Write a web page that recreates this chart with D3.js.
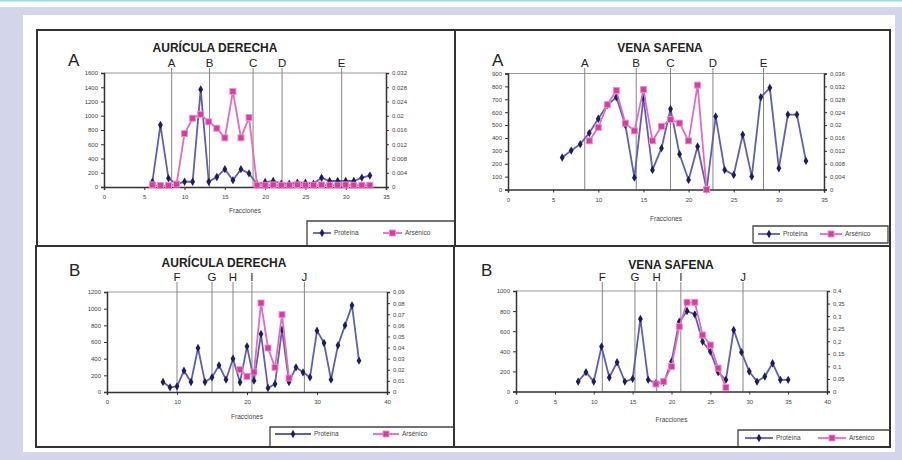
<!DOCTYPE html>
<html>
<head>
<meta charset="utf-8">
<script src="https://cdnjs.cloudflare.com/ajax/libs/d3/7.8.5/d3.min.js"></script>
<style>
  body { margin: 0; background: #fff; }
  svg { display: block; font-family: "Liberation Sans", Arial, sans-serif; }
</style>
</head>
<body>
<svg id="chart" width="902" height="460"></svg>
<script>
// --- data ---
var fraccionesTL = [6,7,8,9,10,11,12,13,14,15,16,17,18,19,20,21,22,23,24,25,26,27,28,29,30,31,32,33];
var proteinaTL = [70,870,122,40,74,74,1370,74,140,250,96,250,190,40,70,84,47,47,60,60,47,130,84,84,84,84,131,160];
var arsenicoTL = [0.0006,0.0004,0.0004,0.0008,0.0150,0.0193,0.0204,0.0183,0.0165,0.0138,0.0268,0.0138,0.0195,0.0005,
                  0.0005,0.0006,0.0005,0.0005,0.0006,0.0005,0.0005,0.0006,0.0005,0.0005,0.0006,0.0005,0.0005,0.0005];

var fraccionesTR = [6,7,8,9,10,11,12,13,14,15,16,17,18,19,20,21,22,23,24,25,26,27,28,29,30,31,32,33];
var proteinaTR = [248,302,352,438,549,655,716,500,92,710,152,321,625,274,74,334,0,567,152,113,425,100,716,789,165,581,581,222];
var fraccionesArsTR = [9,10,11,12,13,14,15,16,17,18,19,20,21,22];
var arsenicoTR = [0.0151,0.0193,0.0263,0.0307,0.0206,0.0182,0.0310,0.0151,0.0196,0.0217,0.0206,0.0151,0.0324,0];

var fraccionesBL = [8,9,10,11,12,13,14,15,16,17,18,19,20,21,22,23,24,25,26,27,28,29,30,31,32,33,34,35,36];
var proteinaBL = [120,56,68,256,120,528,120,176,320,148,400,116,548,136,696,48,96,748,120,296,236,176,736,588,148,560,800,1040,376];
var fraccionesArsBL = [19,20,21,22,23,24,25,26];
var arsenicoBL = [0.0201,0.0141,0.0180,0.0801,0.0396,0.0222,0.0696,0.0126];

var fraccionesBR = [8,9,10,11,12,13,14,15,16,17,18,19,20,21,22,23,24,25,26,27,28,29,30,31,32,33,34,35];
var proteinaBR = [99,192,99,447,139,291,99,126,722,116,83,90,298,695,801,768,497,397,192,116,613,391,199,99,149,281,116,116];
var fraccionesArsBR = [18,19,20,21,22,23,24,25,26,27];
var arsenicoBR = [0.03,0.04,0.099,0.258,0.355,0.355,0.225,0.185,0.093,0.016];

// reference lines
var letrasA = ["A","B","C","D","E"];
var letrasB = ["F","G","H","I","J"];
var refTL = [8.4,13.1,18.5,22.1,29.5];
var refTR = [8.5,14.2,18.0,22.7,28.3];
var refBL = [10.0,15.0,18.0,20.7,28.2];
var refBR = [11.1,15.3,18.1,21.2,29.2];

// ticks
var xTicks35 = [0,5,10,15,20,25,30,35];
var xTicks40by10 = [0,10,20,30,40];
var xTicks40by5 = [0,5,10,15,20,25,30,35,40];
var leftTicksTL = [0,200,400,600,800,1000,1200,1400,1600];
var rightTicksTL = [0,0.004,0.008,0.012,0.016,0.02,0.024,0.028,0.032];
var rightLabelsTL = ["0","0.004","0.008","0.012","0.016","0.02","0.024","0.028","0.032"];
var leftTicksTR = [0,100,200,300,400,500,600,700,800,900];
var rightTicksTR = [0,0.004,0.008,0.012,0.016,0.02,0.024,0.028,0.032,0.036];
var rightLabelsTR = ["0","0,004","0,008","0,012","0,016","0,02","0,024","0,028","0,032","0,036"];
var leftTicksBL = [0,200,400,600,800,1000,1200];
var rightTicksBL = [0,0.01,0.02,0.03,0.04,0.05,0.06,0.07,0.08,0.09];
var rightLabelsBL = ["0","0,01","0,02","0,03","0,04","0,05","0,06","0,07","0,08","0,09"];
var leftTicksBR = [0,200,400,600,800,1000];
var rightTicksBR = [0,0.05,0.1,0.15,0.2,0.25,0.3,0.35,0.4];
var rightLabelsBR = ["0","0,05","0,1","0,15","0,2","0,25","0,3","0,35","0,4"];

var serieNames = ["Proteína", "Arsénico"];

var svg = d3.select("#chart");

// page frame
svg.append("rect").attr("x",0).attr("y",0).attr("width",902).attr("height",1.5).attr("fill","#9fd6e3");
svg.append("rect").attr("x",0).attr("y",7).attr("width",902).attr("height",453).attr("fill","#d3d6ea");
svg.append("rect").attr("x",23).attr("y",15).attr("width",872).attr("height",437).attr("fill","#fff");

var navy = "#1c1c5e", blueLine = "#6060ae", pinkLine = "#e46cbf", pinkMark = "#d2409f";

function drawPanel(p) {
  var g = svg.append("g");

  var x = d3.scaleLinear().domain(p.xDomain).range([p.left, p.right]);
  var yL = d3.scaleLinear().domain([0, p.leftTicks[p.leftTicks.length-1]]).range([p.bottom, p.top]);
  var yR = d3.scaleLinear().domain([0, p.rightTicks[p.rightTicks.length-1]]).range([p.bottom, p.top]);

  // gray top border of plot area
  g.append("line").attr("x1",p.left).attr("x2",p.right).attr("y1",p.top).attr("y2",p.top)
    .attr("stroke","#9a9a9a").attr("stroke-width",1.2);

  // reference lines + letters
  p.refs.forEach(function(v, i) {
    g.append("line").attr("x1",x(v)).attr("x2",x(v)).attr("y1",p.refTop).attr("y2",p.bottom)
      .attr("stroke","#858585").attr("stroke-width",1);
    g.append("text").attr("x",x(v)).attr("y",p.refTop-1).attr("text-anchor","middle")
      .attr("font-size",11.5).attr("fill","#222").text(p.letters[i]);
  });

  var ax = g.append("g").attr("transform","translate(0,"+p.bottom+")")
    .call(d3.axisBottom(x).tickValues(p.xTicks).tickSize(3).tickPadding(5).tickFormat(d3.format("d")));
  var al = g.append("g").attr("transform","translate("+p.left+",0)")
    .call(d3.axisLeft(yL).tickValues(p.leftTicks).tickSize(3).tickPadding(3).tickFormat(d3.format("d")));
  var ar = g.append("g").attr("transform","translate("+p.right+",0)")
    .call(d3.axisRight(yR).tickValues(p.rightTicks).tickSize(3).tickPadding(3)
      .tickFormat(function(d, i) { return p.rightLabels[i]; }));
  [ax, al, ar].forEach(function(a) {
    a.selectAll(".domain").attr("stroke","#333").attr("stroke-width",1.5);
    a.selectAll(".tick line").attr("stroke","#333");
    a.selectAll("text").attr("font-size",6).attr("fill","#444");
  });

  g.append("text").attr("x",(p.left+p.right)/2).attr("y",p.bottom+p.xTitleDy)
    .attr("text-anchor","middle").attr("font-size",6.5).attr("fill","#444").text("Fracciones");

  // protein series
  var pts = p.fx.map(function(f, i) { return [f, p.prot[i]]; });
  g.append("path").datum(pts)
    .attr("d", d3.line().x(function(d){return x(d[0]);}).y(function(d){return yL(d[1]);}))
    .attr("fill","none").attr("stroke",blueLine).attr("stroke-width",1.8);
  g.selectAll(".pm").data(pts).enter().append("path")
    .attr("transform", function(d){ return "translate("+x(d[0])+","+yL(d[1])+")"; })
    .attr("d", d3.symbol().type(d3.symbolDiamond).size(20))
    .attr("fill",navy);

  // arsenic series
  var apts = p.afx.map(function(f, i) { return [f, p.ars[i]]; });
  g.append("path").datum(apts)
    .attr("d", d3.line().x(function(d){return x(d[0]);}).y(function(d){return yR(d[1]);}))
    .attr("fill","none").attr("stroke",pinkLine).attr("stroke-width",1.8);
  g.selectAll(".am").data(apts).enter().append("rect")
    .attr("x", function(d){ return x(d[0])-3; }).attr("y", function(d){ return yR(d[1])-3; })
    .attr("width",6).attr("height",6).attr("fill",pinkMark).attr("stroke","#f08fd0").attr("stroke-width",0.9);

  // title and panel letter
  g.append("text").attr("x",p.titleX).attr("y",p.titleY).attr("text-anchor","middle")
    .attr("font-size",12).attr("font-weight","bold").attr("fill","#222").text(p.title);
  g.append("text").attr("x",p.letterX).attr("y",p.letterY)
    .attr("font-size",17).attr("fill","#222").text(p.panel);

  // legend
  var lg = p.legend;
  g.append("path").attr("d","M"+lg.x0+","+lg.y1+"V"+lg.y0+"H"+lg.x1+(lg.closed ? "V"+lg.y1+"H"+lg.x0 : ""))
    .attr("fill","none").attr("stroke","#444").attr("stroke-width",1.3);
  var cy = lg.cy;
  g.append("line").attr("x1",lg.s1[0]).attr("x2",lg.s1[1]).attr("y1",cy).attr("y2",cy)
    .attr("stroke",blueLine).attr("stroke-width",1.8);
  g.append("path").attr("transform","translate("+((lg.s1[0]+lg.s1[1])/2)+","+cy+")")
    .attr("d", d3.symbol().type(d3.symbolDiamond).size(20)).attr("fill",navy);
  g.append("text").attr("x",lg.s1[1]+3).attr("y",cy+2).attr("font-size",6.5).attr("fill","#444").text(serieNames[0]);
  g.append("line").attr("x1",lg.s2[0]).attr("x2",lg.s2[1]).attr("y1",cy).attr("y2",cy)
    .attr("stroke",pinkLine).attr("stroke-width",1.8);
  g.append("rect").attr("x",(lg.s2[0]+lg.s2[1])/2-3).attr("y",cy-3).attr("width",6).attr("height",6)
    .attr("fill",pinkMark).attr("stroke","#f08fd0").attr("stroke-width",0.9);
  g.append("text").attr("x",lg.s2[1]+3).attr("y",cy+2).attr("font-size",6.5).attr("fill","#444").text(serieNames[1]);

  // panel border
  g.append("rect").attr("x",p.box[0]).attr("y",p.box[1]).attr("width",p.box[2]-p.box[0]).attr("height",p.box[3]-p.box[1])
    .attr("fill","none").attr("stroke","#333").attr("stroke-width",2);
}

drawPanel({
  box:[37,30,455,246], left:104, right:386, top:73, bottom:187, refTop:68, xTitleDy:26,
  xDomain:[0,35], xTicks:xTicks35, leftTicks:leftTicksTL, rightTicks:rightTicksTL, rightLabels:rightLabelsTL,
  fx:fraccionesTL, prot:proteinaTL, afx:fraccionesTL, ars:arsenicoTL,
  refs:refTL, letters:letrasA, title:"AURÍCULA DERECHA", titleX:215, titleY:52, panel:"A", letterX:68, letterY:66,
  legend:{x0:307, y0:221, x1:455, y1:246, closed:false, cy:233, s1:[313,331], s2:[383,402]}
});
drawPanel({
  box:[455,30,890,246], left:508, right:824, top:73.5, bottom:189.5, refTop:68, xTitleDy:31,
  xDomain:[0,35], xTicks:xTicks35, leftTicks:leftTicksTR, rightTicks:rightTicksTR, rightLabels:rightLabelsTR,
  fx:fraccionesTR, prot:proteinaTR, afx:fraccionesArsTR, ars:arsenicoTR,
  refs:refTR, letters:letrasA, title:"VENA SAFENA", titleX:660, titleY:52, panel:"A", letterX:492, letterY:66,
  legend:{x0:753, y0:226, x1:888, y1:243, closed:true, cy:234, s1:[758,780], s2:[820,842]}
});
drawPanel({
  box:[36,246,454,447], left:107, right:387, top:292, bottom:392, refTop:282, xTitleDy:27,
  xDomain:[0,40], xTicks:xTicks40by10, leftTicks:leftTicksBL, rightTicks:rightTicksBL, rightLabels:rightLabelsBL,
  fx:fraccionesBL, prot:proteinaBL, afx:fraccionesArsBL, ars:arsenicoBL,
  refs:refBL, letters:letrasB, title:"AURÍCULA DERECHA", titleX:224, titleY:267, panel:"B", letterX:69, letterY:276,
  legend:{x0:270, y0:427, x1:454, y1:447, closed:false, cy:434, s1:[275,311], s2:[373,399]}
});
drawPanel({
  box:[454,246,890,447], left:516, right:827, top:291, bottom:391.5, refTop:282, xTitleDy:30,
  xDomain:[0,40], xTicks:xTicks40by5, leftTicks:leftTicksBR, rightTicks:rightTicksBR, rightLabels:rightLabelsBR,
  fx:fraccionesBR, prot:proteinaBR, afx:fraccionesArsBR, ars:arsenicoBR,
  refs:refBR, letters:letrasB, title:"VENA SAFENA", titleX:671, titleY:269, panel:"B", letterX:481, letterY:276,
  legend:{x0:738, y0:430, x1:890, y1:447, closed:false, cy:438, s1:[745,773], s2:[818,846]}
});
</script>
</body>
</html>
